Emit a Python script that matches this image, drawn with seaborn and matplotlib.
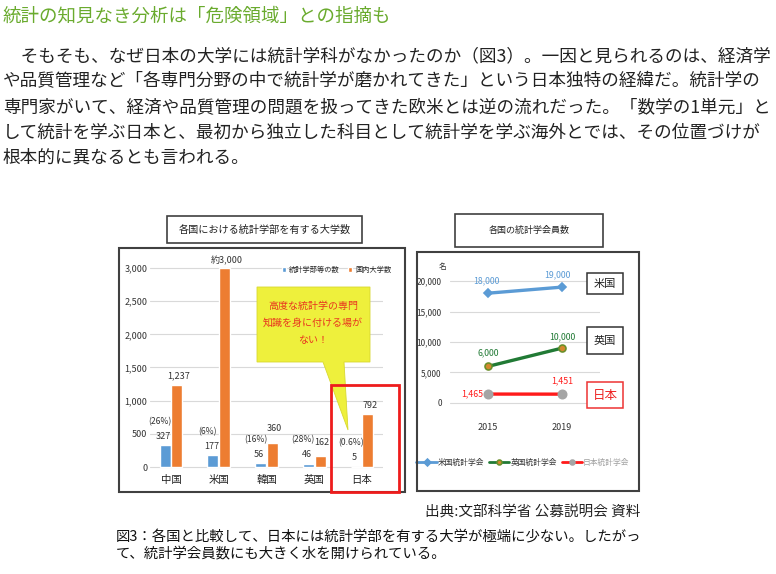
import matplotlib
matplotlib.use("Agg")
import matplotlib.pyplot as plt
import seaborn as sns
import pandas as pd
from matplotlib.patches import Rectangle, Polygon
from matplotlib.ticker import FuncFormatter

# ---- article text ----
headline = "統計の知見なき分析は「危険領域」との指摘も"
body_lines = [
    "　そもそも、なぜ日本の大学には統計学科がなかったのか（図3）。一因と見られるのは、経済学",
    "や品質管理など「各専門分野の中で統計学が磨かれてきた」という日本独特の経緯だ。統計学の",
    "専門家がいて、経済や品質管理の問題を扱ってきた欧米とは逆の流れだった。「数学の1単元」と",
    "して統計を学ぶ日本と、最初から独立した科目として統計学を学ぶ海外とでは、その位置づけが",
    "根本的に異なるとも言われる。",
]
source_text = "出典:文部科学省 公募説明会 資料"
caption_lines = [
    "図3：各国と比較して、日本には統計学部を有する大学が極端に少ない。したがっ",
    "て、統計学会員数にも大きく水を開けられている。",
]

# ---- left chart data ----
left_title = "各国における統計学部を有する大学数"
countries = ["中国", "米国", "韓国", "英国", "日本"]
bar_series = ["統計学部等の数", "国内大学数"]
stat_depts = [327, 177, 56, 46, 5]
universities = [1237, 3000, 360, 162, 792]
dept_labels = ["327", "177", "56", "46", "5"]
share_labels = ["(26%)", "(6%)", "(16%)", "(28%)", "(0.6%)"]
univ_labels = ["1,237", "約3,000", "360", "162", "792"]
callout_lines = ["高度な統計学の専門", "知識を身に付ける場が", "ない！"]

# ---- right chart data ----
right_title = "各国の統計学会員数"
years = [2015, 2019]
societies = ["米国統計学会", "英国統計学会", "日本統計学会"]
us_members = [18000, 19000]
uk_members = [6000, 9000]
jp_members = [1465, 1451]
us_labels = ["18,000", "19,000"]
uk_labels = ["6,000", "10,000"]
jp_labels = ["1,465", "1,451"]
box_countries = ["米国", "英国", "日本"]

W, H = 776, 574
PT = 0.72  # points per pixel at dpi 100
BLUE = "#5b9bd5"
ORANGE = "#ed7d31"
GREEN = "#217a35"
RED = "#ff1a1a"

sns.set_style("white")
plt.rcParams["font.family"] = ["Noto Sans CJK JP", "DejaVu Sans"]


def px_rect(x0, y0, x1, y1):
    return [x0 / W, 1 - y1 / H, (x1 - x0) / W, (y1 - y0) / H]


fig = plt.figure(figsize=(W / 100, H / 100), dpi=100)
fig.patch.set_facecolor("white")

# ================= left chart: bars =================
ax1 = fig.add_axes(px_rect(150, 250, 383, 469))
bar_df = pd.DataFrame({
    "country": countries * 2,
    "series": [bar_series[0]] * len(countries) + [bar_series[1]] * len(countries),
    "value": stat_depts + universities,
})
sns.barplot(data=bar_df, x="country", y="value", hue="series",
            palette=[BLUE, ORANGE], saturation=1, width=0.5, gap=0.08,
            errorbar=None, ax=ax1)
ax1.set_xlim(-0.44, 4.44)
ax1.set_ylim(-30, 3271)
ax1.set_yticks(range(0, 3001, 500))
ax1.yaxis.set_major_formatter(FuncFormatter(lambda v, p: f"{int(v):,}"))
ax1.grid(axis="y", color="#d9d9d9", lw=0.8)
ax1.set_axisbelow(True)
ax1.set_xlabel("")
ax1.set_ylabel("")
ax1.tick_params(axis="y", length=0, pad=2, labelsize=6.5, colors="#333333")
ax1.tick_params(axis="x", length=0, pad=4, labelsize=7.5, colors="#222222")
sns.despine(ax=ax1, left=True, bottom=True)

handles, labels = ax1.get_legend_handles_labels()
ax1.legend_.remove()
ax1.legend(handles, labels, loc="center left", bbox_to_anchor=(275 / W, 1 - 270 / H),
           bbox_transform=fig.transFigure, ncol=2, frameon=False, fontsize=5.2,
           handlelength=0.6, handleheight=0.6, handletextpad=0.4, columnspacing=1.2)

for bar, val_txt, pct_txt in zip(ax1.containers[0], dept_labels, share_labels):
    cx = bar.get_x() + bar.get_width() / 2
    top = bar.get_height()
    ax1.annotate(val_txt, (cx, top), xytext=(-1.5 * PT, 9 * PT), textcoords="offset points",
                 ha="center", va="center", fontsize=6.5, color="#333333")
    ax1.annotate(pct_txt, (cx, top), xytext=(-5 * PT, 24 * PT), textcoords="offset points",
                 ha="center", va="center", fontsize=6.2, color="#333333")
univ_gap_px = [9, 7, 15, 14, 9]
for bar, txt, gap_px in zip(ax1.containers[1], univ_labels, univ_gap_px):
    cx = bar.get_x() + bar.get_width() / 2
    ax1.annotate(txt, (cx, bar.get_height()), xytext=(2 * PT, gap_px * PT),
                 textcoords="offset points", ha="center", va="center",
                 fontsize=6.5, color="#333333")

# ================= right chart: lines =================
ax2 = fig.add_axes(px_rect(450, 262, 600, 405))
series = [
    (us_members, us_labels, BLUE, "D", BLUE, BLUE, 4),
    (uk_members, uk_labels, GREEN, "o", "#d5882e", "#6b8f2a", 5),
    (jp_members, jp_labels, RED, "o", "#a5a5a5", "#a5a5a5", 6),
]
for name, (vals, labs, col, mk, mfc, mec, ms) in zip(societies, series):
    sns.lineplot(x=years, y=vals, color=col, lw=2.4, marker=mk, markersize=ms,
                 markerfacecolor=mfc, markeredgecolor=mec, markeredgewidth=1.2,
                 label=name, ax=ax2)
ax2.set_xlim(2012.95, 2021.05)
ax2.set_ylim(-328, 23115)
ax2.set_xticks(years)
ax2.set_yticks(range(0, 20001, 5000))
ax2.yaxis.set_major_formatter(FuncFormatter(lambda v, p: f"{int(v):,}"))
ax2.grid(axis="y", color="#d9d9d9", lw=0.8)
ax2.set_axisbelow(True)
ax2.tick_params(axis="y", length=0, pad=6, labelsize=6, colors="#333333")
ax2.tick_params(axis="x", length=0, pad=13, labelsize=6.5, colors="#333333")
sns.despine(ax=ax2, left=True, bottom=True)

# value labels (offsets in pixels)
offsets = [
    [(-2, 12), (-5, 12)],
    [(0, 14), (0, 11)],
    [(-5, 0), (0, 13)],
]
text_cols = [BLUE, GREEN, RED]
for (vals, labs, *_), offs, tc in zip(series, offsets, text_cols):
    for yr, v, lab, (dx, dy) in zip(years, vals, labs, offs):
        ax2.annotate(lab, (yr, v), xytext=(dx * PT, dy * PT), textcoords="offset points",
                     ha="center" if dy > 0 else "right", va="center",
                     fontsize=6.3, color=tc)

leg = ax2.legend(loc="center", bbox_to_anchor=(523 / W, 1 - 463 / H),
                 bbox_transform=fig.transFigure, ncol=3, frameon=False,
                 fontsize=5.6, handlelength=2.6, handletextpad=0.15, columnspacing=0.6)
for t, c in zip(leg.get_texts(), ["#333333", "#333333", "#a0a0a0"]):
    t.set_color(c)
for ln in leg.get_lines():
    ln.set_markersize(3.5)
    ln.set_linewidth(2)

# ================= overlay: frames, text, callout =================
ov = fig.add_axes([0, 0, 1, 1], zorder=10)
ov.set_xlim(0, W)
ov.set_ylim(H, 0)
ov.axis("off")
ov.patch.set_alpha(0)


def box(x0, y0, x1, y1, ec="#404040", lw=1.2):
    ov.add_patch(Rectangle((x0, y0), x1 - x0, y1 - y0, fill=False, ec=ec, lw=lw))


ov.text(3, 17, headline, color="#6aab2e", fontsize=13.3, va="center", ha="left")
for i, line in enumerate(body_lines):
    ov.text(3, 56 + i * 25.5, line, color="#222222", fontsize=12.7, va="center", ha="left")

# chart frames and titles
box(119, 248, 405, 492, lw=1.5)
box(417, 252, 639, 491, lw=1.5)
box(167, 216, 362, 243)
ov.text(264.5, 229.5, left_title, fontsize=7.3, ha="center", va="center", color="#222222")
box(455, 214, 603, 247)
ov.text(529, 230.5, right_title, fontsize=6.5, ha="center", va="center", color="#222222")

# callout
ov.add_patch(Polygon([(257, 287), (370, 287), (370, 362), (344, 362), (348, 430),
                      (323, 362), (257, 362)], closed=True, fc="#eef03c", ec="#d8d830", lw=0.6))
for i, line in enumerate(callout_lines):
    ov.text(313, 306 + i * 17, line, fontsize=7.2, ha="center", va="center", color="#e8361f")

# highlight box for Japan
box(331, 385, 399, 492, ec="#ee1c1c", lw=2)

# country boxes on the right chart
for (y0, y1), name, ec in zip([(273, 294), (327, 354), (382, 408)], box_countries,
                               ["#333333", "#333333", "#ee3333"]):
    ov.add_patch(Rectangle((587, y0), 36, y1 - y0, fc="white", ec=ec, lw=1.1))
    ov.text(605, (y0 + y1) / 2, name, fontsize=8 if name != "日本" else 9,
            ha="center", va="center", color="#222222" if name != "日本" else "#ee2222")
ov.text(443, 267, "名", fontsize=5.5, ha="center", va="center", color="#333333")

ov.text(640, 513, source_text, fontsize=10.5, ha="right", va="center", color="#222222")
for i, line in enumerate(caption_lines):
    ov.text(116, 537 + i * 17, line, fontsize=10.35, ha="left", va="center", color="#111111")

fig.savefig("out.png", dpi=100)
